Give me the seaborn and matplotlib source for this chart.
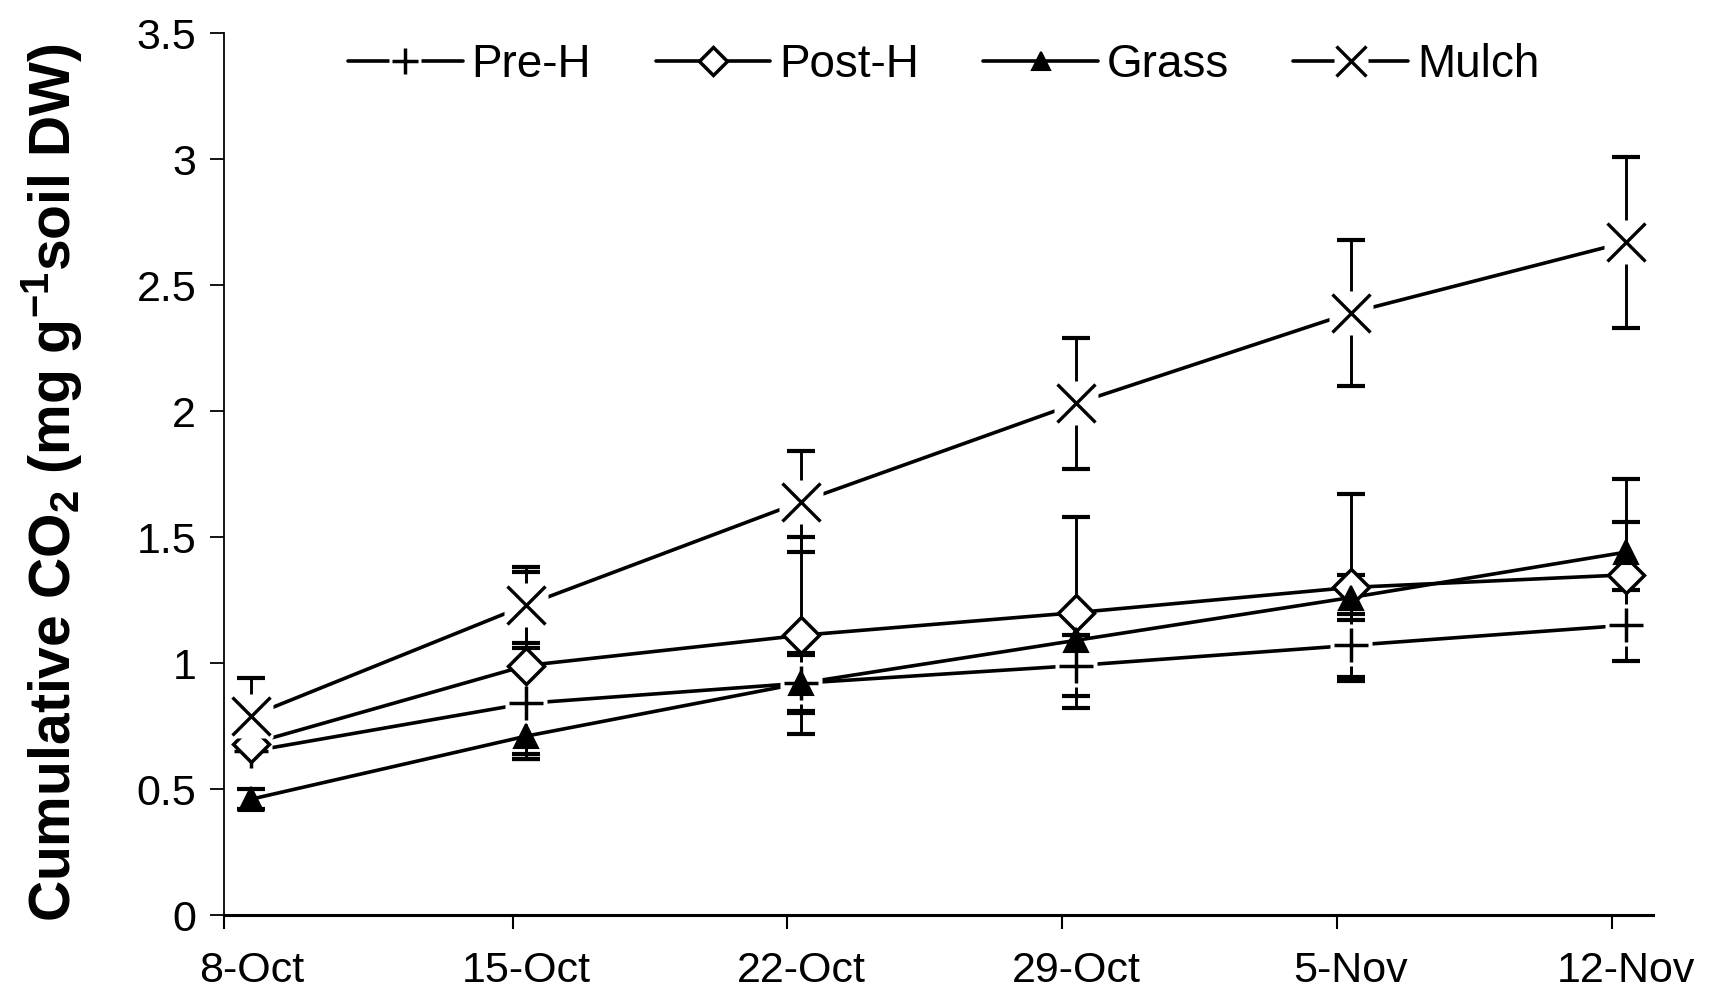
import numpy as np
import pandas as pd
import matplotlib
matplotlib.use("Agg")
import matplotlib.pyplot as plt
from matplotlib.lines import Line2D
from matplotlib.legend_handler import HandlerTuple
import seaborn as sns

# ---- data ----
dates = ['8-Oct', '15-Oct', '22-Oct', '29-Oct', '5-Nov', '12-Nov']
series_names = ['Pre-H', 'Post-H', 'Grass', 'Mulch']
pre_h = [0.65, 0.84, 0.92, 0.99, 1.07, 1.15]
pre_h_err = [0.05, 0.22, 0.11, 0.12, 0.125, 0.14]
post_h = [0.68, 0.99, 1.11, 1.20, 1.30, 1.35]
post_h_err = [0.10, 0.37, 0.39, 0.38, 0.37, 0.21]
grass = [0.46, 0.71, 0.92, 1.09, 1.26, 1.44]
grass_err = [0.04, 0.07, 0.12, 0.10, 0.09, 0.29]
mulch = [0.79, 1.23, 1.64, 2.03, 2.39, 2.67]
mulch_err = [0.15, 0.15, 0.20, 0.26, 0.29, 0.34]
y_ticks = [0, 0.5, 1, 1.5, 2, 2.5, 3, 3.5]
y_tick_labels = ['0', '0.5', '1', '1.5', '2', '2.5', '3', '3.5']

sns.set_theme(style="white")
plt.rcParams['font.family'] = ['Liberation Sans', 'DejaVu Sans']
plt.rcParams['mathtext.default'] = 'regular'
for k in ['text.color', 'axes.labelcolor', 'xtick.color', 'ytick.color',
          'axes.edgecolor']:
    plt.rcParams[k] = 'black'

values = [pre_h, post_h, grass, mulch]
errors = [pre_h_err, post_h_err, grass_err, mulch_err]
pos = np.arange(len(dates))
df = pd.DataFrame({
    'pos': np.tile(pos, len(series_names)),
    'value': np.concatenate(values),
    'series': np.repeat(series_names, len(dates)),
})

fig = plt.figure(figsize=(17.16, 9.92), dpi=100)
ax = fig.add_axes([0.1305, 0.0776, 0.8325, 0.8891])

lw = 2.6
sns.lineplot(data=df, x='pos', y='value', hue='series', hue_order=series_names,
             palette=['black'] * 4, linewidth=lw, legend=False, ax=ax,
             zorder=2, estimator=None, sort=False)

for vals, errs in zip(values, errors):
    ax.errorbar(pos, vals, yerr=errs, fmt='none', ecolor='black',
                elinewidth=2.1, capsize=10, capthick=3.0, zorder=3)

styles = {
    'Pre-H': dict(marker='+', ms=24, mew=2.5, mfc='none', bg=30),
    'Post-H': dict(marker='D', ms=18, mew=2.5, mfc='white', bg=None),
    'Grass': dict(marker='^', ms=17, mew=1.5, mfc='black', bg=None),
    'Mulch': dict(marker='x', ms=27, mew=2.4, mfc='none', bg=31),
}
handles = []
z = 4
for name, vals in zip(series_names, values):
    st = styles[name]
    if st['bg']:
        ax.plot(pos, vals, ls='none', marker='s', ms=st['bg'], mfc='white',
                mec='none', zorder=z)
    ax.plot(pos, vals, ls='none', marker=st['marker'], ms=st['ms'],
            mew=st['mew'], mfc=st['mfc'], mec='black', zorder=z + 0.5)
    z += 1
    parts = [Line2D([], [], color='black', lw=lw)]
    if st['bg']:
        parts.append(Line2D([], [], ls='none', marker='s', ms=st['bg'] * 0.78,
                            mfc='white', mec='none'))
    parts.append(Line2D([], [], ls='none', marker=st['marker'],
                        ms=st['ms'] * 0.8, mew=st['mew'], mfc=st['mfc'],
                        mec='black'))
    handles.append(tuple(parts))

leg = fig.legend(handles, series_names, loc='center', ncol=4,
                 bbox_to_anchor=(0.55, 0.934), bbox_transform=fig.transFigure,
                 frameon=False, fontsize=33, handlelength=2.5,
                 handletextpad=0.2, columnspacing=1.4,
                 handler_map={tuple: HandlerTuple(ndivide=1, pad=0)})

ax.set_xlim(-0.1, 5.097)
ax.set_ylim(0, 3.5)
ax.set_yticks(y_ticks)
ax.set_yticklabels(y_tick_labels)
ax.set_xticks(pos)
ax.set_xticklabels(dates)
ax.set_xticks([-0.1] + list(pos[1:] - 0.05), minor=True)
ax.tick_params(axis='x', which='major', length=0, pad=26, labelsize=31)
ax.tick_params(axis='x', which='minor', length=10, width=1.5, direction='out',
               bottom=True)
ax.tick_params(axis='y', which='major', length=10, width=1.3, direction='out',
               left=True, pad=10, labelsize=31)

for s in ['top', 'right']:
    ax.spines[s].set_visible(False)
ax.spines['left'].set_linewidth(1.3)
ax.spines['bottom'].set_linewidth(2.2)

ax.set_xlabel('')
ax.set_ylabel(r'Cumulative CO$_2$ (mg g$^{-1}$soil DW)', fontsize=41,
              fontweight='bold')
ax.yaxis.set_label_coords(-0.098, 0.49)

fig.savefig('out.png', dpi=100, facecolor='white')
